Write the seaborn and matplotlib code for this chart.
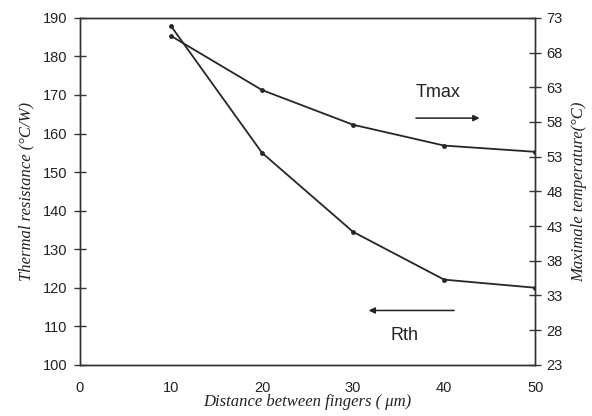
import matplotlib
matplotlib.use("Agg")
import matplotlib.pyplot as plt
import seaborn as sns
import pandas as pd

# Data
distance = [10, 20, 30, 40, 50]
rth = [187.9, 155.0, 134.5, 122.1, 120.0]      # Thermal resistance (°C/W), left axis
tmax = [70.4, 62.6, 57.6, 54.6, 53.7]          # Max temperature (°C), right axis

x_ticks = [0, 10, 20, 30, 40, 50]
left_ticks = [100, 110, 120, 130, 140, 150, 160, 170, 180, 190]
right_ticks = [23, 28, 33, 38, 43, 48, 53, 58, 63, 68, 73]

df = pd.DataFrame({"distance": distance, "rth": rth, "tmax": tmax})

sns.set_theme(style="white")
plt.rcParams["font.family"] = ["Liberation Sans", "DejaVu Sans"]

fig = plt.figure(figsize=(5.92, 4.16), dpi=100)
ax = fig.add_axes([0.135, 0.123, 0.769, 0.834])
ax2 = ax.twinx()

line_kw = dict(color="#262626", linewidth=1.3, marker="o", markersize=3.5,
               markeredgewidth=0)
sns.lineplot(data=df, x="distance", y="rth", ax=ax, **line_kw)
sns.lineplot(data=df, x="distance", y="tmax", ax=ax2, **line_kw)

ax.set_xlim(0, 50)
ax.set_ylim(100, 190)
ax2.set_ylim(23, 73)
ax.set_xticks(x_ticks)
ax.set_yticks(left_ticks)
ax2.set_yticks(right_ticks)

for a in (ax, ax2):
    for s in a.spines.values():
        s.set_color("#333333")
        s.set_linewidth(1.0)
ax.tick_params(axis="both", direction="inout", length=8, width=1.0,
               color="#333333", labelsize=10.5, labelcolor="#222222", pad=5)
ax.tick_params(axis="x", pad=8)
ax2.tick_params(axis="y", direction="inout", length=8, width=1.0,
                color="#333333", labelsize=10.5, labelcolor="#222222", pad=4)

label_font = dict(family=["Liberation Serif", "DejaVu Serif"], style="italic",
                  size=12, color="#222222")
ax.set_xlabel("Distance between fingers ( \u03bcm)", labelpad=-1, **label_font)
ax.set_ylabel("Thermal resistance (\u00b0C/W)", labelpad=6, **label_font)
ax2.set_ylabel("Maximale temperature(\u00b0C)", labelpad=6, **label_font)

# annotations with arrows
ax.text(39.3, 170.6, "Tmax", ha="center", va="center", fontsize=13, color="#222222")
ax.annotate("", xy=(44.2, 164.0), xytext=(36.6, 164.0),
            arrowprops=dict(arrowstyle="-|>", color="#222222", lw=1.1,
                            mutation_scale=9))
ax.text(35.7, 107.6, "Rth", ha="center", va="center", fontsize=13, color="#222222")
ax.annotate("", xy=(31.4, 114.1), xytext=(41.4, 114.1),
            arrowprops=dict(arrowstyle="-|>", color="#222222", lw=1.1,
                            mutation_scale=9))

fig.savefig("out.png", dpi=100)
